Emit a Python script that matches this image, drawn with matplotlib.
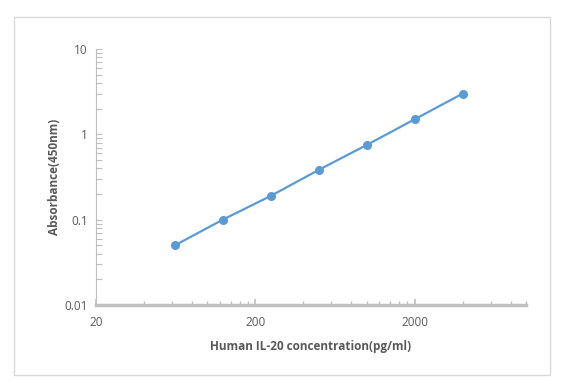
import numpy as np
import matplotlib
matplotlib.use("Agg")
import matplotlib.pyplot as plt
from matplotlib.patches import Rectangle
from matplotlib.ticker import FixedLocator, FixedFormatter, NullFormatter

plt.rcParams['font.family'] = ['Open Sans', 'DejaVu Sans']

# standard curve values
conc = [62.5, 125, 250, 500, 1000, 2000, 4000]
absorb = [0.050, 0.100, 0.190, 0.383, 0.75, 1.50, 3.0]

x_major = [20, 200, 2000]
x_labels = ['20', '200', '2000']
y_major = [0.01, 0.1, 1, 10]
y_labels = ['0.01', '0.1', '1', '10']

line_col = '#5B9BD5'
axis_col = '#BFBFBF'
text_col = '#595959'

W, H = 572, 390
fig = plt.figure(figsize=(W / 100, H / 100), dpi=100)
ax = fig.add_axes([96 / W, 1 - 305 / H, (526 - 96) / W, (305 - 49) / H])

# chart border
fig.patches.append(Rectangle((14 / W, 1 - 375 / H), (550 - 14) / W, (375 - 17) / H,
                             transform=fig.transFigure, fill=False,
                             edgecolor='#D9D9D9', linewidth=1))

ax.plot(conc, absorb, color=line_col, linewidth=1.6, marker='o',
        markersize=5.5, markerfacecolor=line_col, markeredgecolor=line_col)

ax.set_xscale('log')
ax.set_yscale('log')
ax.set_xlim(20, 10000)
ax.set_ylim(0.01, 10)

ax.xaxis.set_major_locator(FixedLocator(x_major))
ax.xaxis.set_major_formatter(FixedFormatter(x_labels))
x_minor = [b * k for b in (20, 200, 2000) for k in range(2, 10) if b * k <= 10000]
ax.xaxis.set_minor_locator(FixedLocator(x_minor))
ax.xaxis.set_minor_formatter(NullFormatter())

ax.yaxis.set_major_locator(FixedLocator(y_major))
ax.yaxis.set_major_formatter(FixedFormatter(y_labels))
y_minor = [b * k for b in (0.01, 0.1, 1) for k in range(2, 10)]
ax.yaxis.set_minor_locator(FixedLocator(y_minor))
ax.yaxis.set_minor_formatter(NullFormatter())

for s in ('top', 'right'):
    ax.spines[s].set_visible(False)
ax.spines['left'].set_color(axis_col)
ax.spines['left'].set_linewidth(0.8)
ax.spines['bottom'].set_color(axis_col)
ax.spines['bottom'].set_linewidth(2.5)

ax.tick_params(axis='x', which='major', direction='in', length=4, width=1.2,
               color=axis_col, labelcolor=text_col, labelsize=8.5, pad=8)
ax.tick_params(axis='x', which='minor', direction='in', length=3, width=1,
               color=axis_col)
ax.tick_params(axis='y', which='major', direction='in', length=4, width=0.8,
               color=axis_col, labelcolor=text_col, labelsize=8.5, pad=6)
ax.tick_params(axis='y', which='minor', direction='in', length=4, width=0.8,
               color=axis_col)

ax.set_xlabel('Human IL-20 concentration(pg/ml)', fontsize=8.5,
              fontweight='bold', color=text_col, labelpad=8)
ax.set_ylabel('Absorbance(450nm)', fontsize=8.5, fontweight='bold',
              color=text_col, labelpad=2)

fig.savefig('out.png', dpi=100)
